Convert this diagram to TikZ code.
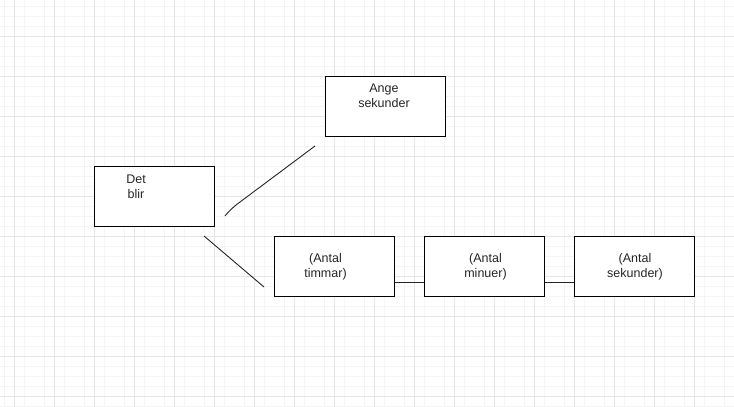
\documentclass[tikz,border=0pt]{standalone}
\usepackage{fontspec}
\setmainfont{Liberation Sans}
\begin{document}
\begin{tikzpicture}[x=1pt,y=-1pt,
  box/.style={draw=black,line width=1pt,fill=white,minimum width=120pt,minimum height=60pt,inner sep=0pt},
  txt/.style={font=\fontsize{12.5}{14.8}\selectfont,align=center,inner sep=0pt,anchor=north,text=black!85},
  conn/.style={line width=0.9pt,black!85}]
\useasboundingbox (0,0) rectangle (734,407);
\fill[white] (0,0) rectangle (734,407);
% minor grid
\foreach \x in {4,24,...,734} \draw[black!4,line width=1pt] (\x,0) -- (\x,407);
\foreach \y in {6,16,...,407} \draw[black!4,line width=1pt] (0,\y) -- (734,\y);
\foreach \x in {14,54,...,734} \draw[black!10,line width=1pt] (\x,0) -- (\x,407);
\foreach \y in {36,76,...,407} \draw[black!10,line width=1pt] (0,\y) -- (734,\y);
% boxes
\node[box] (det) at (154,196) {};
\node[box] (ange) at (385,106) {};
\node[box] (tim) at (334,266) {};
\node[box] (min) at (484,266) {};
\node[box] (sek) at (634,266) {};
% texts
\node[txt] (tdet) at (136,174.5) {Det\\blir};
\node[txt] (tange) at (384,84) {Ange\\sekunder};
\node[txt] (ttim) at (325.5,253) {(Antal\\timmar)};
\node[txt] (tmin) at (485.5,253) {(Antal\\minuer)};
\node[txt] (tsek) at (635,253) {(Antal\\sekunder)};
% connectors
\coordinate (a1) at (225,216);
\coordinate (a2) at (315,146);
\coordinate (b1) at (204,236);
\coordinate (b2) at (264,287);
\draw[conn] (a1) .. controls (230,210) and (232,208) .. (240,202) -- (a2);
\draw[conn] (b1) -- (b2);
\draw[conn] (tim.east |- 0,282) -- (min.west |- 0,282);
\draw[conn] (min.east |- 0,282) -- (sek.west |- 0,282);
\end{tikzpicture}
\end{document}
